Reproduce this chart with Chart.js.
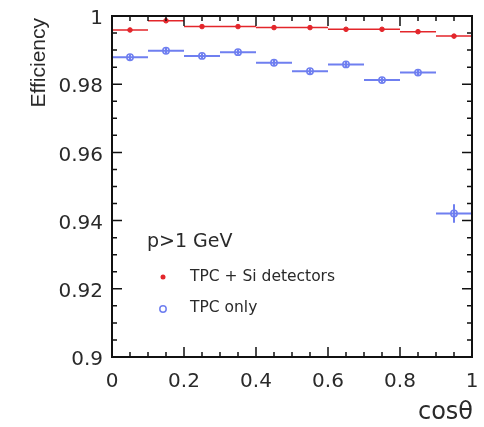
<!DOCTYPE html>
<html>
<head>
<meta charset="utf-8">
<script src="https://cdn.jsdelivr.net/npm/chart.js@4"></script>
<style>
  html, body { margin: 0; background: #fff; }
</style>
</head>
<body>
<canvas id="effChart" width="484" height="427"></canvas>
<script>
// bins in cos(theta), width 0.1
const binCenters = [0.05, 0.15, 0.25, 0.35, 0.45, 0.55, 0.65, 0.75, 0.85, 0.95];
const binHalfWidth = 0.05;
// TPC + Si detectors
const siEff = [0.9959, 0.9986, 0.9969, 0.9969, 0.9966, 0.9966, 0.9961, 0.9961, 0.9954, 0.9941];
const siErr = [0.0003, 0.0003, 0.0003, 0.0003, 0.0003, 0.0003, 0.0003, 0.0003, 0.0003, 0.0004];
// TPC only
const tpcEff = [0.9879, 0.9898, 0.9883, 0.9894, 0.9863, 0.9838, 0.9858, 0.9812, 0.9834, 0.9421];
const tpcErr = [0.0008, 0.0008, 0.0008, 0.0008, 0.0008, 0.0008, 0.0008, 0.0008, 0.0008, 0.0027];
const xTicks = [0, 0.2, 0.4, 0.6, 0.8, 1];
const yTicks = [0.9, 0.92, 0.94, 0.96, 0.98, 1];

const RED = "#e3262b";
const BLUE = "#6f7ff0";
const FONT = "'DejaVu Sans', sans-serif";

const toPoints = (ys) => binCenters.map((x, i) => ({ x: x, y: ys[i] }));

// horizontal bin-width bars + vertical error bars
const errorBars = {
  id: "errorBars",
  beforeDatasetsDraw(chart) {
    const { ctx, scales: { x, y } } = chart;
    chart.data.datasets.forEach((ds) => {
      ctx.save();
      ctx.strokeStyle = ds.borderColor;
      ctx.lineWidth = ds.barWidth;
      ds.data.forEach((p, i) => {
        const px = x.getPixelForValue(p.x);
        const py = y.getPixelForValue(p.y);
        ctx.beginPath();
        ctx.moveTo(x.getPixelForValue(p.x - binHalfWidth), py);
        ctx.lineTo(x.getPixelForValue(p.x + binHalfWidth), py);
        ctx.moveTo(px, y.getPixelForValue(p.y - ds.errors[i]));
        ctx.lineTo(px, y.getPixelForValue(p.y + ds.errors[i]));
        ctx.stroke();
      });
      ctx.restore();
    });
  }
};

// ROOT-like frame with inward ticks, titles and legend
const frame = {
  id: "frame",
  afterDraw(chart) {
    const { ctx, chartArea: a, scales: { x, y } } = chart;
    ctx.save();
    ctx.strokeStyle = "#111";
    ctx.lineWidth = 1.5;
    ctx.beginPath();
    for (let v = 0; v <= 1.0001; v += 0.05) {
      const px = x.getPixelForValue(v);
      const len = Math.abs(v / 0.2 - Math.round(v / 0.2)) < 1e-6 ? 10 : 5;
      ctx.moveTo(px, a.bottom); ctx.lineTo(px, a.bottom - len);
      ctx.moveTo(px, a.top); ctx.lineTo(px, a.top + len);
    }
    for (let v = 0.9; v <= 1.0001; v += 0.005) {
      const py = y.getPixelForValue(v);
      const len = Math.abs((v - 0.9) / 0.02 - Math.round((v - 0.9) / 0.02)) < 1e-6 ? 10 : 5;
      ctx.moveTo(a.left, py); ctx.lineTo(a.left + len, py);
      ctx.moveTo(a.right, py); ctx.lineTo(a.right - len, py);
    }
    ctx.stroke();
    ctx.lineWidth = 2;
    ctx.strokeRect(a.left, a.top, a.right - a.left, a.bottom - a.top);

    ctx.fillStyle = "#2a2a2a";
    ctx.textAlign = "right";
    ctx.textBaseline = "middle";
    ctx.font = "24px " + FONT;
    ctx.fillText("cos\u03b8", a.right + 1, 413);
    ctx.font = "21px 'Liberation Sans', Arial, sans-serif";
    ctx.save();
    ctx.translate(39, a.top + 2);
    ctx.rotate(-Math.PI / 2);
    ctx.fillText("Efficiency", 0, 0);
    ctx.restore();

    ctx.textAlign = "left";
    ctx.font = "19px " + FONT;
    ctx.fillText("p>1 GeV", 147, 242);
    ctx.font = "15.5px " + FONT;
    ctx.fillText("TPC + Si detectors", 190, 277);
    ctx.fillText("TPC only", 190, 308);
    ctx.fillStyle = RED;
    ctx.beginPath();
    ctx.arc(163, 277, 2.5, 0, Math.PI * 2);
    ctx.fill();
    ctx.strokeStyle = BLUE;
    ctx.lineWidth = 1.5;
    ctx.beginPath();
    ctx.arc(163, 309, 3.2, 0, Math.PI * 2);
    ctx.stroke();
    ctx.restore();
  }
};

new Chart(document.getElementById("effChart"), {
  type: "scatter",
  data: {
    datasets: [
      {
        label: "TPC + Si detectors",
        data: toPoints(siEff),
        errors: siErr,
        barWidth: 1.5,
        borderColor: RED,
        backgroundColor: RED,
        pointRadius: 2.3,
        borderWidth: 1
      },
      {
        label: "TPC only",
        data: toPoints(tpcEff),
        errors: tpcErr,
        barWidth: 2,
        borderColor: BLUE,
        backgroundColor: "rgba(255,255,255,0)",
        pointRadius: 3.2,
        borderWidth: 1.5
      }
    ]
  },
  options: {
    responsive: false,
    animation: false,
    layout: { padding: { top: 16, right: 12, left: 0, bottom: 0 } },
    plugins: { legend: { display: false }, tooltip: { enabled: false } },
    scales: {
      x: {
        type: "linear",
        min: 0,
        max: 1,
        afterBuildTicks: (s) => { s.ticks = xTicks.map((v) => ({ value: v })); },
        afterFit: (s) => { s.height = 70; s.paddingLeft = 0; s.paddingRight = 0; },
        grid: { display: false, drawTicks: false },
        border: { display: false },
        ticks: {
          padding: 13,
          color: "#2a2a2a",
          font: { size: 20, family: FONT },
          callback: (v) => String(+v.toFixed(2))
        }
      },
      y: {
        min: 0.9,
        max: 1,
        afterBuildTicks: (s) => { s.ticks = yTicks.map((v) => ({ value: v })); },
        afterFit: (s) => { s.width = 112; s.paddingTop = 0; s.paddingBottom = 0; },
        grid: { display: false, drawTicks: false },
        border: { display: false },
        ticks: {
          padding: 9,
          labelOffset: 3,
          color: "#2a2a2a",
          font: { size: 20, family: FONT },
          callback: (v) => String(+v.toFixed(2))
        }
      }
    }
  },
  plugins: [errorBars, frame]
});
</script>
</body>
</html>
